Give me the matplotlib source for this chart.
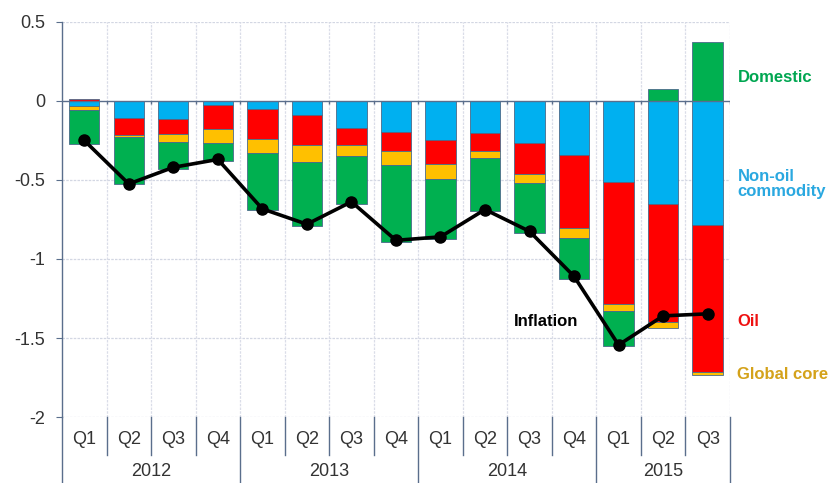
import numpy as np
import matplotlib
matplotlib.use("Agg")
import matplotlib.pyplot as plt
from matplotlib.transforms import blended_transform_factory

plt.rcParams['font.family'] = ['Liberation Sans', 'DejaVu Sans']

quarters = ['Q1', 'Q2', 'Q3', 'Q4', 'Q1', 'Q2', 'Q3', 'Q4',
            'Q1', 'Q2', 'Q3', 'Q4', 'Q1', 'Q2', 'Q3']
years = ['2012', '2013', '2014', '2015']
quarters_per_year = [4, 4, 4, 3]

non_oil = [-0.035, -0.105, -0.116, -0.027, -0.049, -0.091, -0.169, -0.197,
           -0.247, -0.205, -0.264, -0.345, -0.514, -0.655, -0.782]
oil = [0.01, -0.113, -0.09, -0.153, -0.194, -0.188, -0.11, -0.122,
       -0.155, -0.112, -0.201, -0.459, -0.77, -0.741, -0.931]
global_core = [-0.02, -0.01, -0.053, -0.088, -0.089, -0.106, -0.07, -0.089,
               -0.095, -0.047, -0.053, -0.063, -0.042, -0.042, -0.021]
domestic = [-0.22, -0.30, -0.17, -0.112, -0.358, -0.405, -0.30, -0.487,
            -0.374, -0.334, -0.317, -0.258, -0.224, 0.074, 0.37]
inflation = [-0.25, -0.525, -0.42, -0.37, -0.683, -0.78, -0.638, -0.882,
             -0.86, -0.687, -0.825, -1.11, -1.544, -1.36, -1.347]

components = [
    (non_oil, '#00B0F0'),
    (oil, '#FF0000'),
    (global_core, '#FFC000'),
    (domestic, '#00B050'),
]

fig = plt.figure(figsize=(8.38, 4.83), dpi=100)
ax = fig.add_axes([0.074, 0.1366, 0.797, 0.818])

x = np.arange(len(quarters))
pos_base = np.zeros(len(x))
neg_base = np.zeros(len(x))
for vals, col in components:
    v = np.array(vals)
    bottom = np.where(v >= 0, pos_base, neg_base)
    ax.bar(x, v, 0.68, bottom=bottom, color=col, edgecolor='#4A6A8A',
           linewidth=0.6, zorder=3)
    pos_base += np.where(v >= 0, v, 0)
    neg_base += np.where(v < 0, v, 0)

ax.plot(x, inflation, color='black', linewidth=2.6, marker='o',
        markersize=8, zorder=5)

ax.set_xlim(-0.5, len(x) - 0.5)
ax.set_ylim(-2, 0.5)
ax.set_yticks([0.5, 0, -0.5, -1, -1.5, -2])
ax.set_yticklabels(['0.5', '0', '-0.5', '-1', '-1.5', '-2'])
ax.tick_params(axis='y', labelsize=13, labelcolor='#333333', length=4,
               color='#5A6E8C', pad=8)
ax.set_xticks([])

for s in ['top', 'right', 'bottom']:
    ax.spines[s].set_visible(False)
ax.spines['left'].set_color('#5A6E8C')
ax.spines['left'].set_linewidth(1.0)
ax.spines['left'].set_bounds(-2, 0.5)

# grid
for yv in [0.5, -0.5, -1, -1.5, -2]:
    ax.axhline(yv, color='#D3D7E3', linewidth=0.9, linestyle=(0, (2, 1)), zorder=1)
for b in np.arange(0.5, len(x), 1.0):
    ax.axvline(b, color='#DADDE8', linewidth=0.9, linestyle=(0, (2, 1)), zorder=1)
ax.axhline(0, color='#5A6E8C', linewidth=1.0, zorder=4)
ax.vlines(np.arange(0.5, len(x), 1.0), -0.02, 0, color='#5A6E8C',
          linewidth=1.0, zorder=4)

# category axis below the plot
tr = blended_transform_factory(ax.transData, ax.transAxes)
for i, q in enumerate(quarters):
    ax.text(i, -0.058, q, transform=tr, ha='center', va='center',
            fontsize=13, color='#333333')
start = 0
for yr, n in zip(years, quarters_per_year):
    ax.text(start + (n - 1) / 2, -0.139, yr, transform=tr, ha='center',
            va='center', fontsize=13, color='#333333')
    start += n
ybound = np.cumsum([0] + quarters_per_year) - 0.5
for b in np.arange(0.5, len(x) - 1, 1.0):
    if b in ybound:
        continue
    ax.plot([b, b], [0, -0.096], transform=tr, color='#5A6E8C',
            linewidth=1.0, clip_on=False)
for b in ybound:
    ax.plot([b, b], [0, -0.17], transform=tr, color='#5A6E8C',
            linewidth=1.0, clip_on=False)

# series labels
fig.text(0.880, 0.840, 'Domestic', color='#00A651', fontsize=12,
         fontweight='bold', va='center')
fig.text(0.880, 0.620, 'Non-oil\ncommodity', color='#2AA8E0', fontsize=12,
         fontweight='bold', va='center', linespacing=1.0)
fig.text(0.880, 0.334, 'Oil', color='#EE1111', fontsize=12,
         fontweight='bold', va='center')
fig.text(0.880, 0.224, 'Global core', color='#D4A21A', fontsize=12,
         fontweight='bold', va='center')
fig.text(0.652, 0.334, 'Inflation', color='black', fontsize=12,
         fontweight='bold', va='center', ha='center')

fig.savefig('out.png', dpi=100)
